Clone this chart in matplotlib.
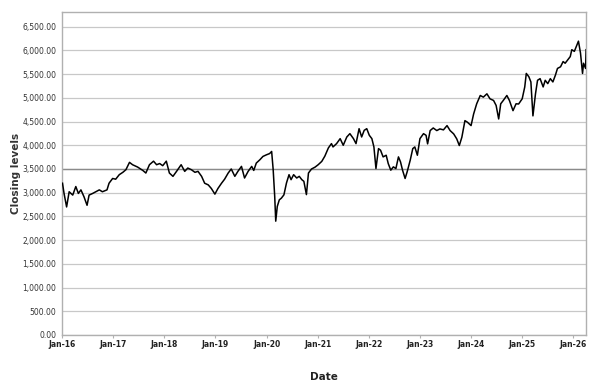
import matplotlib
matplotlib.use('Agg')
import matplotlib.pyplot as plt
import matplotlib.dates as mdates
from matplotlib.ticker import FuncFormatter
import numpy as np
import pandas as pd

# DATA (decimal year, closing level)
years = [2016.01, 2016.04, 2016.09, 2016.14, 2016.21, 2016.27, 2016.32, 2016.37, 2016.43, 2016.49,
         2016.53, 2016.60, 2016.66, 2016.73, 2016.79, 2016.88, 2016.92, 2016.99, 2017.05, 2017.12,
         2017.19, 2017.25, 2017.32, 2017.38, 2017.48, 2017.58, 2017.64, 2017.71, 2017.79, 2017.85,
         2017.91, 2017.97, 2018.04, 2018.10, 2018.17, 2018.24, 2018.33, 2018.40, 2018.46, 2018.53,
         2018.60, 2018.66, 2018.73, 2018.79, 2018.86, 2018.92, 2018.99, 2019.05, 2019.12, 2019.18,
         2019.25, 2019.31, 2019.38, 2019.44, 2019.51, 2019.57, 2019.64, 2019.71, 2019.75, 2019.80,
         2019.87, 2019.93, 2020.00, 2020.06, 2020.10, 2020.13, 2020.16, 2020.18, 2020.21, 2020.25,
         2020.29, 2020.34, 2020.39, 2020.44, 2020.48, 2020.53, 2020.59, 2020.64, 2020.69, 2020.73,
         2020.78, 2020.82, 2020.88, 2020.95, 2021.01, 2021.08, 2021.14, 2021.21, 2021.27, 2021.30,
         2021.37, 2021.44, 2021.50, 2021.57, 2021.63, 2021.70, 2021.75, 2021.81, 2021.86, 2021.91,
         2021.96, 2022.01, 2022.06, 2022.10, 2022.14, 2022.19, 2022.23, 2022.28, 2022.34, 2022.38,
         2022.43, 2022.48, 2022.53, 2022.58, 2022.62, 2022.66, 2022.71, 2022.75, 2022.81, 2022.86,
         2022.90, 2022.95, 2023.00, 2023.07, 2023.12, 2023.15, 2023.20, 2023.26, 2023.33, 2023.39,
         2023.46, 2023.53, 2023.59, 2023.66, 2023.72, 2023.77, 2023.82, 2023.88, 2023.93, 2024.00,
         2024.05, 2024.11, 2024.18, 2024.24, 2024.31, 2024.37, 2024.44, 2024.49, 2024.54, 2024.58,
         2024.63, 2024.70, 2024.75, 2024.82, 2024.88, 2024.93, 2025.00, 2025.05, 2025.08, 2025.13,
         2025.17, 2025.21, 2025.26, 2025.30, 2025.35, 2025.41, 2025.45, 2025.50, 2025.55, 2025.60,
         2025.65, 2025.69, 2025.75, 2025.80, 2025.84, 2025.89, 2025.94, 2025.97, 2026.02, 2026.06,
         2026.10, 2026.14, 2026.18, 2026.20, 2026.24, 2026.25]
closes = [3200, 2985, 2700, 3020, 2950, 3130, 2985, 3060, 2915, 2735,
          2950, 2985, 3020, 3060, 3020, 3060, 3200, 3300, 3285, 3380,
          3430, 3485, 3640, 3590, 3540, 3470, 3415, 3590, 3665, 3590,
          3615, 3570, 3665, 3415, 3345, 3450, 3590, 3450, 3520, 3485,
          3430, 3450, 3345, 3200, 3165, 3090, 2970, 3090, 3200, 3285,
          3415, 3500, 3345, 3450, 3555, 3310, 3450, 3555, 3470, 3625,
          3695, 3765, 3800, 3825, 3870, 3485, 2920, 2400, 2710, 2850,
          2885, 2955, 3205, 3380, 3275, 3380, 3310, 3345, 3275, 3240,
          2960, 3415, 3500, 3540, 3590, 3660, 3770, 3945, 4035, 3965,
          4035, 4140, 4000, 4175, 4245, 4140, 4035, 4350, 4175, 4315,
          4350, 4210, 4140, 3965, 3510, 3930, 3895, 3755, 3790, 3615,
          3475, 3545, 3510, 3755, 3650, 3475, 3300, 3440, 3685, 3930,
          3965, 3790, 4140, 4245, 4210, 4030, 4310, 4365, 4310, 4345,
          4325, 4415, 4310, 4240, 4135, 3995, 4170, 4520, 4485, 4415,
          4660, 4875, 5050, 5015, 5085, 4980, 4945, 4840, 4555, 4875,
          4945, 5050, 4945, 4730, 4875, 4870, 4980, 5230, 5515, 5445,
          5335, 4620, 5085, 5370, 5405, 5230, 5370, 5300, 5405, 5335,
          5480, 5620, 5655, 5765, 5730, 5800, 5870, 6015, 5980, 6085,
          6195, 5945, 5515, 5730, 5620, 6015]
ref_level = 3500

yr = np.array(years)
dates = pd.Timestamp('2016-01-01') + pd.to_timedelta((yr - 2016) * 365.25, unit='D')

fig = plt.figure(figsize=(5.99, 3.89), dpi=100)
ax = fig.add_axes([62/599, 1 - 335/389, 524/599, 323/389])

ax.plot(dates, closes, color='black', lw=1.1, zorder=3)

ax.set_ylim(0, 6810)
ax.set_yticks(np.arange(0, 6501, 500))
ax.yaxis.set_major_formatter(FuncFormatter(lambda v, p: f'{v:,.2f}'))
ax.grid(axis='y', color='#c8c8c8', lw=0.9, zorder=1)
ax.axhline(ref_level, color='#8a8a8a', lw=1.0, zorder=2)

ax.set_xlim(pd.Timestamp('2016-01-01'), pd.Timestamp('2026-04-01'))
ax.xaxis.set_major_locator(mdates.YearLocator())
ax.xaxis.set_major_formatter(mdates.DateFormatter('%b-%y'))

for s in ax.spines.values():
    s.set_color('#b0b0b0')
    s.set_linewidth(1.0)

ax.tick_params(axis='y', length=0, pad=4, labelsize=5.5, labelcolor='#333333')
ax.tick_params(axis='x', length=2, color='#b0b0b0', pad=1.5, labelsize=5.5, labelcolor='#222222')
for lab in ax.get_xticklabels():
    lab.set_fontweight('bold')

ax.set_ylabel('Closing levels', fontsize=7.5, fontweight='bold', color='#333333', labelpad=1)
ax.set_xlabel('Date', fontsize=7.5, fontweight='bold', color='#222222', labelpad=17)

plt.savefig('out.png', dpi=100)
